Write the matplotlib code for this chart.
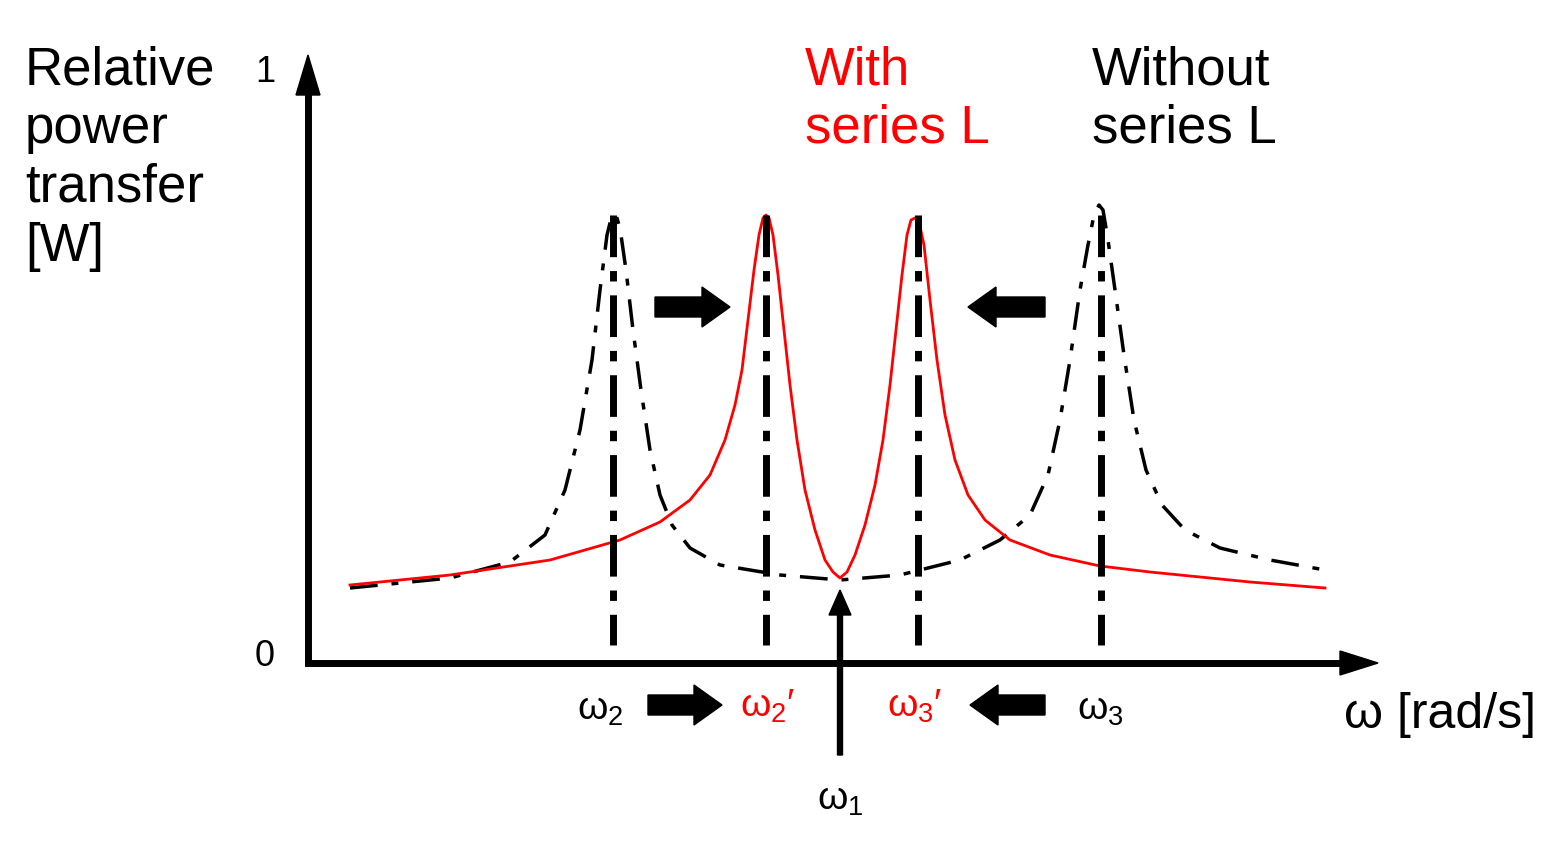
import matplotlib
matplotlib.use("Agg")
import matplotlib.pyplot as plt
from matplotlib.patches import FancyArrow

plt.rcParams['font.family'] = ['Liberation Sans', 'DejaVu Sans']
plt.rcParams['mathtext.fontset'] = 'custom'
plt.rcParams['mathtext.rm'] = 'Liberation Sans'
plt.rcParams['mathtext.it'] = 'Liberation Sans'

red_x = [350,450,550,620,660,690,710,725,735,742,748,754,759,763,766,769,773,778,784,790,797,805,815,825,833,840,
         847,855,865,875,883,890,896,902,907,911,915,919,924,930,937,945,955,968,985,1010,1050,1100,1150,1250,1325]
red_y = [585,575,560,540,522,500,475,440,405,370,320,270,235,218,215,218,235,275,330,385,440,490,530,560,572,578,
         572,555,525,485,440,385,330,275,235,220,218,222,245,300,360,415,460,495,520,540,555,566,572,582,588]
blk_x = [350,450,510,545,565,580,592,600,607,612,616,620,626,633,641,650,660,672,690,720,780,840,900,960,1000,1030,
         1048,1060,1070,1080,1088,1094,1099,1103,1108,1115,1124,1134,1146,1162,1185,1220,1270,1325]
blk_y = [588,578,562,535,490,430,360,290,235,215,215,228,270,330,390,450,495,525,548,565,575,580,575,560,540,515,
         475,420,360,290,245,215,205,210,240,290,355,420,470,505,530,548,560,570]
vlines_x = [613, 766, 918, 1101]

H = 841
fig = plt.figure(figsize=(15.68, 8.41), dpi=100)
ax = fig.add_axes([0, 0, 1, 1])
ax.set_xlim(0, 1568); ax.set_ylim(0, H); ax.axis('off')
Y = lambda py: H - py

ax.plot(blk_x, [Y(v) for v in blk_y], color='black', lw=2.5, ls=(0, (8, 4, 2, 4)))
ax.plot(red_x, [Y(v) for v in red_y], color='red', lw=2)
for x in vlines_x:
    ax.plot([x, x], [Y(215), Y(645)], color='black', lw=5, ls=(0, (6, 2, 1.5, 2)))

# axes
ax.plot([308, 1350], [Y(663), Y(663)], color='black', lw=5)
ax.plot([308, 308], [Y(663), Y(80)], color='black', lw=5)
ax.add_patch(FancyArrow(1340, Y(663), 38, 0, width=3, head_width=24, head_length=38, color='black', length_includes_head=True))
ax.add_patch(FancyArrow(308, Y(95), 0, 40, width=3, head_width=24, head_length=40, color='black', length_includes_head=True))

def blk_arrow(x0, x1, py):
    ax.add_patch(FancyArrow(x0, Y(py), x1 - x0, 0, width=20, head_width=40, head_length=28,
                            color='black', length_includes_head=True))
blk_arrow(655, 730, 307); blk_arrow(1045, 968, 307)
blk_arrow(648, 722, 705); blk_arrow(1045, 970, 705)
ax.add_patch(FancyArrow(840, Y(755), 0, 165, width=5, head_width=22, head_length=25, color='black', length_includes_head=True))

ax.text(25, Y(45), "Relative\npower\ntransfer\n[W]", fontsize=38, va='top', ha='left', linespacing=1.23)
ax.text(265, Y(72), "1", fontsize=26, ha='center', va='center')
ax.text(265, Y(657), "0", fontsize=26, ha='center', va='center')
ax.text(805, Y(45), "With\nseries L", fontsize=38, color='red', va='top', ha='left', linespacing=1.23)
ax.text(1092, Y(45), "Without\nseries L", fontsize=38, color='black', va='top', ha='left', linespacing=1.23)
ax.text(600, Y(710), "ω$_2$", fontsize=28, ha='center', va='center')
ax.text(768, Y(706), "ω$_2$′", fontsize=28, ha='center', va='center', color='red')
ax.text(915, Y(706), "ω$_3$′", fontsize=28, ha='center', va='center', color='red')
ax.text(1100, Y(710), "ω$_3$", fontsize=28, ha='center', va='center')
ax.text(840, Y(800), "ω$_1$", fontsize=28, ha='center', va='center')
ax.text(1440, Y(715), "ω [rad/s]", fontsize=36, ha='center', va='center')

fig.savefig("out.png", dpi=100, facecolor='white')
